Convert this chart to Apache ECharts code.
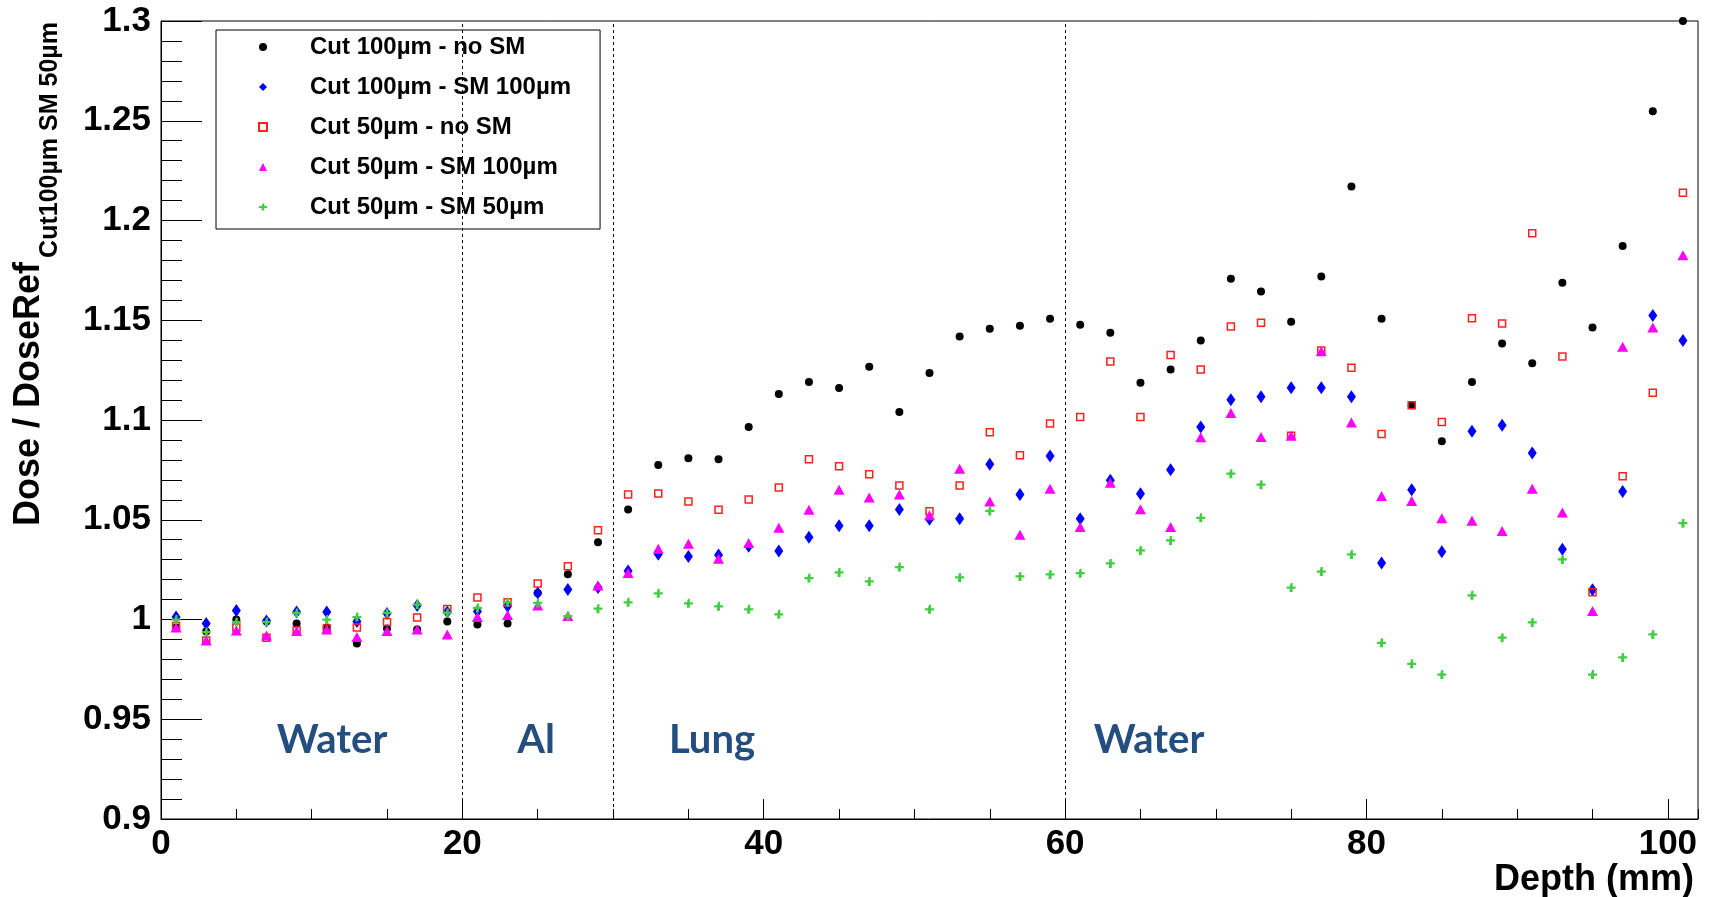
<!DOCTYPE html>
<html>
<head>
<meta charset="utf-8">
<script src="https://cdn.jsdelivr.net/npm/echarts@6/dist/echarts.min.js"></script>
<style>
html, body { margin: 0; padding: 0; background: #fff; }
#chart { width: 1716px; height: 897px; }
</style>
</head>
<body>
<div id="chart"></div>
<script>
// depth (mm) of each bin centre
const depths = [1, 3, 5, 7, 9, 11, 13, 15, 17, 19, 21, 23, 25, 27, 29, 31, 33, 35, 37, 39,
    41, 43, 45, 47, 49, 51, 53, 55, 57, 59, 61, 63, 65, 67, 69, 71, 73, 75, 77, 79,
    81, 83, 85, 87, 89, 91, 93, 95, 97, 99, 101]

const cut100NoSM = [0.996, 0.994, 1.000, 0.999, 0.998, 0.996, 0.988, 0.9955, 0.995, 0.999,
    0.9975, 0.998, 1.0133, 1.0227, 1.0387, 1.0552, 1.0774, 1.0808, 1.0803, 1.0965,
    1.113, 1.119, 1.116, 1.1267, 1.104, 1.1236, 1.1418, 1.1458, 1.1473, 1.1508,
    1.1478, 1.1437, 1.1187, 1.1253, 1.1398, 1.1708, 1.1644, 1.1492, 1.1719, 1.2171,
    1.1508, 1.1074, 1.0894, 1.1191, 1.1383, 1.1284, 1.1688, 1.1464, 1.1872, 1.2548, 1.3]

const cut100SM100 = [1.0012, 0.998, 1.0045, 0.9992, 1.0038, 1.0038, 0.999, 1.003, 1.007, 1.0038,
    1.004, 1.0067, 1.0133, 1.015, 1.016, 1.0243, 1.0327, 1.0316, 1.0323, 1.0367,
    1.0343, 1.0412, 1.047, 1.047, 1.0552, 1.0502, 1.0505, 1.0778, 1.0627, 1.082,
    1.0505, 1.0698, 1.063, 1.0751, 1.0965, 1.1101, 1.1117, 1.1162, 1.1162, 1.1117,
    1.0283, 1.065, 1.034, 1.0944, 1.0974, 1.0834, 1.0352, 1.0149, 1.0642, 1.1524, 1.1399]

const cut50NoSM = [0.9967, 0.9895, 0.996, 0.9908, 0.9945, 0.9955, 0.996, 0.9987, 1.001, 1.0053,
    1.011, 1.0087, 1.018, 1.0267, 1.0447, 1.0627, 1.0631, 1.0592, 1.055, 1.0602,
    1.0662, 1.0803, 1.0768, 1.0728, 1.0672, 1.0542, 1.0672, 1.0938, 1.0823, 1.0983,
    1.1015, 1.1293, 1.1015, 1.1326, 1.1253, 1.1469, 1.1487, 1.0921, 1.1348, 1.1262,
    1.093, 1.1074, 1.099, 1.151, 1.1484, 1.1936, 1.1318, 1.0137, 1.0718, 1.1136, 1.2139]

const cut50SM100 = [0.996, 0.9895, 0.9945, 0.992, 0.9942, 0.995, 0.9912, 0.9942, 0.995, 0.9925,
    1.0012, 1.0022, 1.007, 1.0017, 1.017, 1.0233, 1.0355, 1.038, 1.0305, 1.0383,
    1.046, 1.055, 1.0651, 1.0611, 1.0626, 1.0522, 1.0756, 1.0592, 1.0425, 1.0656,
    1.0464, 1.0685, 1.0553, 1.0464, 1.0914, 1.1035, 1.0915, 1.0921, 1.1344, 1.0987,
    1.0619, 1.0594, 1.0508, 1.0495, 1.0444, 1.0656, 1.0536, 1.0042, 1.1367, 1.1464, 1.1826]

const cut50SM50 = [1.000, 0.9937, 0.9987, 0.9987, 1.0033, 1.000, 1.0012, 1.0033, 1.0075, 1.0033,
    1.0058, 1.0087, 1.0083, 1.0017, 1.0054, 1.0086, 1.0131, 1.0081, 1.0066, 1.0051,
    1.0026, 1.0208, 1.0236, 1.0191, 1.0263, 1.0051, 1.0211, 1.0544, 1.0216, 1.0226,
    1.0232, 1.0281, 1.0346, 1.0396, 1.051, 1.0731, 1.0676, 1.016, 1.024, 1.0326,
    0.9883, 0.9778, 0.9724, 1.0121, 0.9909, 0.9985, 1.0301, 0.9724, 0.981, 0.9925, 1.0483]

const seriesNames = ['Cut 100µm - no SM', 'Cut 100µm - SM 100µm', 'Cut 50µm - no SM',
    'Cut 50µm - SM 100µm', 'Cut 50µm - SM 50µm']

// material boundaries (mm) and region labels
const boundaries = [20, 30, 60]
const regionLabels = ['Water', 'Al', 'Lung', 'Water']

const FONT = "'Liberation Sans', Arial, sans-serif"
const plusPath = 'path://M3,0h2v3h3v2h-3v3h-3v-3h-3v-2h3z'

function pairs(values){
    return depths.map((d, i) => [d, values[i]])
}

function regionText(x, text){
    return {
        type: 'text', x: x, y: 740,
        style: { text: text, font: 'bold 40px Lato, sans-serif', fill: '#234e7f', align: 'center', verticalAlign: 'middle' }
    }
}

const chart = echarts.init(document.getElementById('chart'))

chart.setOption({
    animation: false,
    backgroundColor: '#fff',
    grid: {
        left: 161,
        right: 18,
        top: 21,
        bottom: 78,
        show: true,
        borderColor: '#000',
        borderWidth: 1,
        backgroundColor: 'transparent'
    },
    legend: {
        orient: 'vertical',
        left: 216,
        top: 30,
        backgroundColor: '#fff',
        borderColor: '#000',
        borderWidth: 1,
        borderRadius: 0,
        padding: [5, 29, 10, 42],
        itemGap: 16,
        itemWidth: 8,
        itemHeight: 8,
        data: seriesNames,
        textStyle: {
            fontFamily: FONT,
            fontWeight: 'bold',
            fontSize: 24,
            color: '#000',
            padding: [0, 0, 0, 38]
        }
    },
    xAxis: [{
        type: 'value',
        min: 0,
        max: 102,
        interval: 20,
        axisLine: { show: true, lineStyle: { color: '#000', width: 1 } },
        axisTick: { show: true, inside: true, length: 20, lineStyle: { color: '#000' } },
        axisLabel: {
            margin: 8,
            fontFamily: FONT,
            fontWeight: 'bold',
            fontSize: 35,
            color: '#000',
            formatter: v => (v % 20 === 0 ? String(v) : ''),
            showMaxLabel: false
        },
        splitLine: { show: false }
    }, {
        // minor ticks every 5 mm
        type: 'value',
        position: 'bottom',
        min: 0,
        max: 102,
        interval: 5,
        axisLine: { show: false },
        axisTick: { show: true, inside: true, length: 10, lineStyle: { color: '#000' } },
        axisLabel: { show: false },
        splitLine: { show: false }
    }],
    yAxis: {
        type: 'value',
        min: 0.9,
        max: 1.3,
        interval: 0.05,
        axisLine: { show: true, lineStyle: { color: '#000', width: 1 } },
        axisTick: { show: true, inside: true, length: 41, lineStyle: { color: '#000' } },
        minorTick: { show: true, splitNumber: 5, length: 21, lineStyle: { color: '#000' } },
        axisLabel: {
            margin: 10,
            fontFamily: FONT,
            fontWeight: 'bold',
            fontSize: 35,
            color: '#000',
            formatter: v => String(+v.toFixed(2))
        },
        splitLine: { show: false }
    },
    graphic: [
        {
            type: 'text', x: 29, y: 394, rotation: Math.PI / 2,
            style: { text: 'Dose / DoseRef', font: 'bold 36px ' + FONT, fill: '#000', align: 'center', verticalAlign: 'middle' }
        },
        {
            type: 'text', x: 50, y: 140, rotation: Math.PI / 2,
            style: { text: 'Cut100µm SM 50µm', font: 'bold 25px ' + FONT, fill: '#000', align: 'center', verticalAlign: 'middle' }
        },
        {
            type: 'text', right: 22, top: 862,
            style: { text: 'Depth (mm)', font: 'bold 36px ' + FONT, fill: '#000' }
        },
        regionText(332, regionLabels[0]),
        regionText(536, regionLabels[1]),
        regionText(712, regionLabels[2]),
        regionText(1149, regionLabels[3])
    ],
    series: [
        {
            name: seriesNames[0],
            type: 'scatter',
            symbol: 'circle',
            symbolSize: 8,
            itemStyle: { color: '#000', opacity: 1 },
            data: pairs(cut100NoSM),
            markLine: {
                silent: true,
                symbol: 'none',
                label: { show: false },
                lineStyle: { color: '#000', type: [3, 3], width: 1 },
                data: boundaries.map(b => ({ xAxis: b }))
            }
        },
        {
            name: seriesNames[1],
            type: 'scatter',
            symbol: 'diamond',
            symbolSize: [9, 13],
            itemStyle: { color: '#0000ff', opacity: 1 },
            data: pairs(cut100SM100)
        },
        {
            name: seriesNames[2],
            type: 'scatter',
            symbol: 'rect',
            symbolSize: 7,
            itemStyle: { color: 'rgba(255,255,255,0)', borderColor: '#ff2020', borderWidth: 1.5, opacity: 1 },
            data: pairs(cut50NoSM)
        },
        {
            name: seriesNames[3],
            type: 'scatter',
            symbol: 'triangle',
            symbolSize: [11, 10],
            itemStyle: { color: '#ff00ff', opacity: 1 },
            data: pairs(cut50SM100)
        },
        {
            name: seriesNames[4],
            type: 'scatter',
            symbol: plusPath,
            symbolSize: 9,
            itemStyle: { color: '#44cc44', opacity: 1 },
            data: pairs(cut50SM50)
        }
    ]
})
</script>
</body>
</html>
